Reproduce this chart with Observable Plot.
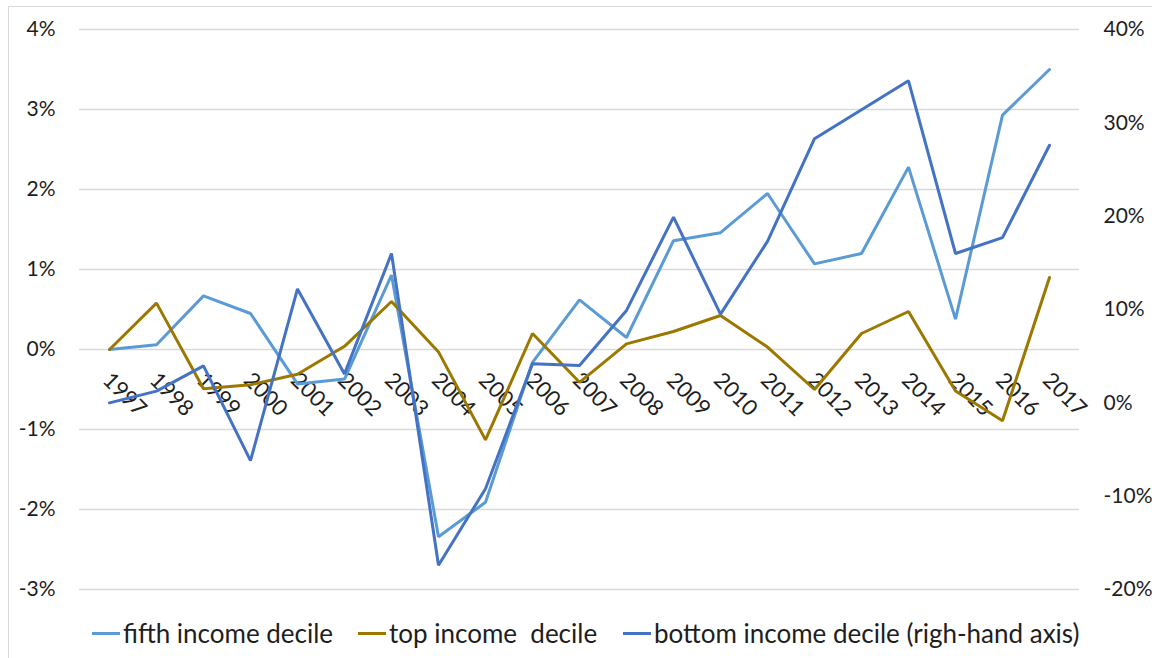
<!DOCTYPE html>
<html>
<head>
<meta charset="utf-8">
<script src="https://cdn.jsdelivr.net/npm/d3@7"></script>
<script src="https://cdn.jsdelivr.net/npm/@observablehq/plot@0.6"></script>
<style>
  html, body { margin: 0; padding: 0; background: #fff; }
  body { width: 1152px; height: 658px; position: relative; overflow: hidden; font-family: Lato, "Open Sans", sans-serif; }
  #frame { position: absolute; left: 8px; top: 6px; width: 1150px; height: 660px; border-left: 1px solid #d9d9d9; border-top: 1px solid #d9d9d9; }
  #chart { position: absolute; left: 0; top: 0; }
  .item { position: absolute; top: 617px; height: 32px; display: flex; align-items: center; font-size: 26px; color: #1e1e1e; white-space: pre; }
  .sw { display: inline-block; width: 28px; height: 3px; margin-right: 3px; }
</style>
</head>
<body>
<div id="frame"></div>
<div id="chart"></div>
<div id="legend"></div>
<script>
const years = ["1997","1998","1999","2000","2001","2002","2003","2004","2005","2006","2007","2008","2009","2010","2011","2012","2013","2014","2015","2016","2017"];
const fifth = [0, 0.06, 0.67, 0.45, -0.43, -0.37, 0.93, -2.34, -1.91, -0.16, 0.62, 0.15, 1.36, 1.46, 1.95, 1.07, 1.20, 2.28, 0.38, 2.93, 3.50];
const topDecile = [0, 0.58, -0.49, -0.44, -0.31, 0.04, 0.60, -0.03, -1.13, 0.20, -0.41, 0.07, 0.225, 0.425, 0.03, -0.50, 0.20, 0.475, -0.52, -0.89, 0.90];
const bottom = [0, 1.25, 3.96, -6.2, 12.2, 3.1, 16.0, -17.4, -9.2, 4.2, 4.0, 9.9, 19.9, 9.5, 17.3, 28.3, 31.4, 34.5, 16.0, 17.7, 27.6];
const leftTicks = [-3, -2, -1, 0, 1, 2, 3, 4];
const rightTicks = [-20, -10, 0, 10, 20, 30, 40];
const seriesNames = ["fifth income decile", "top income  decile", "bottom income decile (righ-hand axis)"];
const seriesColors = ["#5B9BD5", "#9C7800", "#4472C4"];

// secondary axis (-20..40) mapped onto primary axis (-3..4)
const toLeft = v => -3 + (v + 20) * 7 / 60;
const fromLeft = v => (v + 3) * 60 / 7 - 20;

const rows = s => years.map((y, i) => ({year: y, value: s[i]}));

const chart = Plot.plot({
  width: 1152,
  height: 610,
  marginLeft: 79,
  marginRight: 73,
  marginTop: 29,
  marginBottom: 21,
  style: {fontFamily: "Lato, 'Open Sans', sans-serif", fontSize: "21px", color: "#1e1e1e", background: "transparent", overflow: "visible"},
  x: {type: "point", domain: years, padding: 0.5, axis: null},
  y: {domain: [-3, 4], axis: null, label: null},
  marks: [
    Plot.ruleY(leftTicks, {stroke: "#d9d9d9", strokeWidth: 1.3}),
    Plot.axisY(leftTicks, {anchor: "left", tickSize: 0, tickPadding: 24, label: null, tickFormat: d => d + "%", fontSize: 21}),
    Plot.axisY(rightTicks.map(toLeft), {anchor: "right", tickSize: 0, tickPadding: 24, label: null, tickFormat: d => Math.round(fromLeft(d)) + "%", fontSize: 21}),
    Plot.text(years, {x: d => d, y: 0, text: d => d, rotate: 45, textAnchor: "start", lineAnchor: "bottom", dx: -8, dy: 32, fontSize: 22, fill: "#1e1e1e"}),
    Plot.line(rows(fifth), {x: "year", y: "value", stroke: seriesColors[0], strokeWidth: 3, strokeLinejoin: "miter"}),
    Plot.line(rows(topDecile), {x: "year", y: "value", stroke: seriesColors[1], strokeWidth: 3, strokeLinejoin: "miter"}),
    Plot.line(rows(bottom), {x: "year", y: d => toLeft(d.value), stroke: seriesColors[2], strokeWidth: 3, strokeLinejoin: "miter"})
  ]
});
document.getElementById("chart").appendChild(chart);

const legendLefts = [92, 358, 623];
const legend = document.getElementById("legend");
seriesNames.forEach((name, i) => {
  const item = document.createElement("div");
  item.className = "item";
  item.style.left = legendLefts[i] + "px";
  const sw = document.createElement("span");
  sw.className = "sw";
  sw.style.background = seriesColors[i];
  const t = document.createElement("span");
  t.textContent = name;
  item.appendChild(sw);
  item.appendChild(t);
  legend.appendChild(item);
});
</script>
</body>
</html>
